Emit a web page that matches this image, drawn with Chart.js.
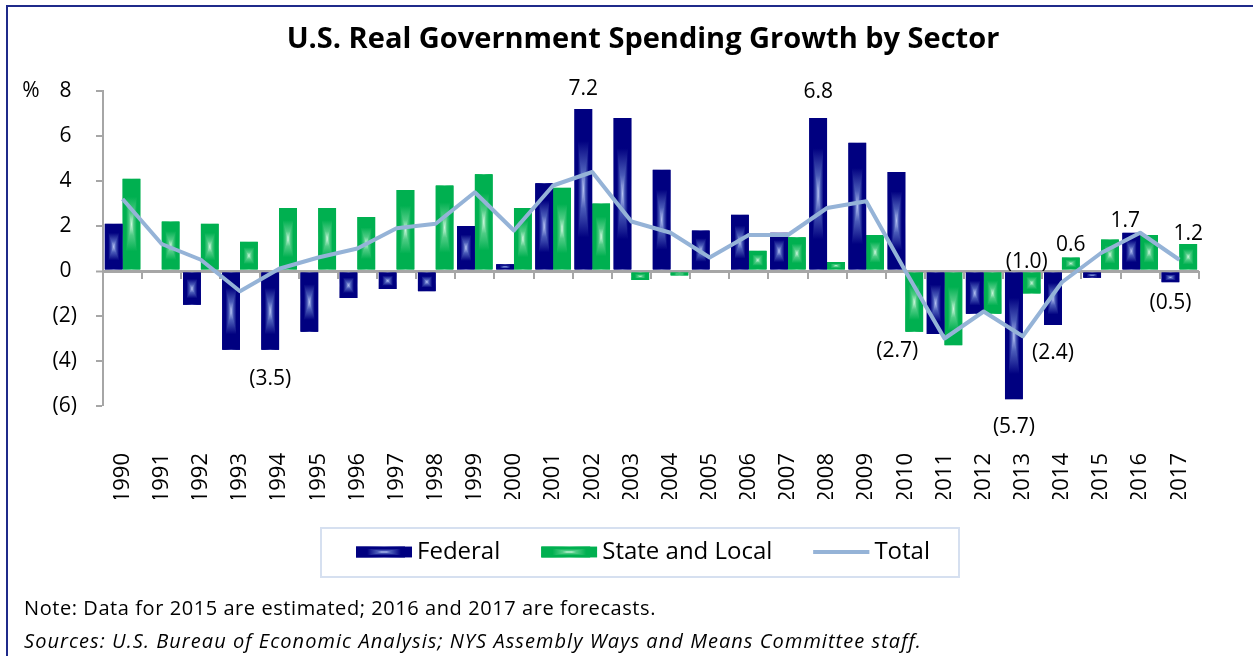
<!DOCTYPE html>
<html>
<head>
<meta charset="utf-8">
<title>U.S. Real Government Spending Growth by Sector</title>
<script src="https://cdn.jsdelivr.net/npm/chart.js@4.4.1/dist/chart.umd.min.js"></script>
<style>
  html, body { margin: 0; padding: 0; background: #fff; }
  #wrap { position: relative; width: 1253px; height: 656px; overflow: hidden; background: #fff; }
  #chart { position: absolute; left: 0; top: 0; }
  .frame-top { position: absolute; left: 6px; top: 5px; right: 0; height: 2px; background: #1F2A8A; }
  .frame-left { position: absolute; left: 6px; top: 5px; bottom: 0; width: 2px; background: #1F2A8A; }
  .heading { position: absolute; left: 0; width: 1286px; top: 17px; line-height: 40px; text-align: center;
             font-family: "Open Sans", sans-serif; font-weight: bold; font-size: 29px; color: #000; white-space: nowrap; }
  .note { position: absolute; left: 24px; font-family: "Open Sans", sans-serif; font-size: 20px; color: #000; white-space: nowrap; letter-spacing: 0.57px; }
  .src { font-style: italic; letter-spacing: 1.05px; }
</style>
</head>
<body>
<div id="wrap">
  <canvas id="chart" width="1253" height="656"></canvas>
  <div class="frame-top"></div>
  <div class="frame-left"></div>
  <div class="heading">U.S. Real Government Spending Growth by Sector</div>
  <div class="note" style="top:594px">Note: Data for 2015 are estimated; 2016 and 2017 are forecasts.</div>
  <div class="note src" style="top:627px">Sources: U.S. Bureau of Economic Analysis; NYS Assembly Ways and Means Committee staff.</div>
</div>
<script>
// ---- data (annual % change) ----
const years = ['1990','1991','1992','1993','1994','1995','1996','1997','1998','1999',
               '2000','2001','2002','2003','2004','2005','2006','2007','2008','2009',
               '2010','2011','2012','2013','2014','2015','2016','2017'];
const federal = [2.1, 0.0, -1.5, -3.5, -3.5, -2.7, -1.2, -0.8, -0.9, 2.0,
                 0.3, 3.9, 7.2, 6.8, 4.5, 1.8, 2.5, 1.7, 6.8, 5.7,
                 4.4, -2.8, -1.9, -5.7, -2.4, -0.3, 1.7, -0.5];
const stateLocal = [4.1, 2.2, 2.1, 1.3, 2.8, 2.8, 2.4, 3.6, 3.8, 4.3,
                    2.8, 3.7, 3.0, -0.4, -0.2, 0.0, 0.9, 1.5, 0.4, 1.6,
                    -2.7, -3.3, -1.9, -1.0, 0.6, 1.4, 1.6, 1.2];
const total = [3.2, 1.2, 0.5, -0.9, 0.1, 0.6, 1.0, 1.9, 2.1, 3.5,
               1.8, 3.8, 4.4, 2.2, 1.7, 0.6, 1.6, 1.6, 2.8, 3.1,
               0.0, -3.0, -1.8, -2.9, -0.5, 0.8, 1.7, 0.5];
const yMin = -6, yMax = 8, yStep = 2;

// which bars carry a value label, and where the label sits relative to the bar end
const labelPlacement = [
  { series: 'Federal',         year: '1994', dx: 0,   dy: 29 },
  { series: 'Federal',         year: '2002', dx: 0,   dy: -20 },
  { series: 'Federal',         year: '2008', dx: 0,   dy: -26 },
  { series: 'State and Local', year: '2010', dx: -17, dy: 19 },
  { series: 'Federal',         year: '2013', dx: 0,   dy: 28 },
  { series: 'State and Local', year: '2013', dx: -5,  dy: -31 },
  { series: 'Federal',         year: '2014', dx: 0,   dy: 28 },
  { series: 'State and Local', year: '2014', dx: 0,   dy: -12 },
  { series: 'Federal',         year: '2016', dx: -6,  dy: -12 },
  { series: 'Federal',         year: '2017', dx: 0,   dy: 21 },
  { series: 'State and Local', year: '2017', dx: 0,   dy: -10 }
];

// ---- styling ----
const FONT = '"Open Sans", Lato, sans-serif';
const NAVY = '#000080', NAVY_MID = '#4A5BB8', NAVY_LIGHT = '#B4C2F2';
const GREEN = '#00B050', GREEN_MID = '#4FCC85', GREEN_LIGHT = '#CDF7DD';
const TOTAL_BLUE = '#95B3D7';
const AXIS_GREY = '#A6A6A6';
const glow = { 'Federal': [NAVY, NAVY_MID, NAVY_LIGHT], 'State and Local': [GREEN, GREEN_MID, GREEN_LIGHT] };
const SWATCH_W = 56;

const fmt = v => v < 0 ? '(' + Math.abs(v).toFixed(1) + ')' : v.toFixed(1);

function ramp(g, c) {
  g.addColorStop(0, c[0]); g.addColorStop(0.2, c[0]); g.addColorStop(0.38, c[1]);
  g.addColorStop(0.5, c[2]);
  g.addColorStop(0.62, c[1]); g.addColorStop(0.8, c[0]); g.addColorStop(1, c[0]);
  return g;
}

// rectangular "from centre" shading: min of a horizontal and a vertical ramp
function shadeRect(ctx, l, t, r, b, cols) {
  if (r - l < 1 || b - t < 1) return;
  const gh = ramp(ctx.createLinearGradient(l, 0, r, 0), cols);
  const gv = ramp(ctx.createLinearGradient(0, t, 0, b), cols);
  ctx.save();
  ctx.beginPath(); ctx.rect(l, t, r - l, b - t); ctx.clip();
  ctx.fillStyle = gh; ctx.fillRect(l, t, r - l, b - t);
  ctx.globalCompositeOperation = 'darken';
  ctx.fillStyle = gv; ctx.fillRect(l, t, r - l, b - t);
  ctx.restore();
}

const barShading = {
  id: 'barShading',
  afterDatasetDraw(chart, args) {
    const ds = chart.data.datasets[args.index];
    const cols = glow[ds.label];
    if (!cols) return;
    const ctx = chart.ctx;
    args.meta.data.forEach(el => {
      const p = el.getProps(['x', 'y', 'base', 'width'], true);
      const l = p.x - p.width / 2, r = p.x + p.width / 2;
      const t = Math.min(p.y, p.base), b = Math.max(p.y, p.base);
      shadeRect(ctx, l, t, r, b, cols);
    });
  }
};

const axisExtras = {
  id: 'axisExtras',
  beforeDatasetsDraw(chart) {
    const { ctx, scales: { x, y } } = chart;
    const y0 = y.getPixelForValue(0);
    ctx.save();
    ctx.strokeStyle = AXIS_GREY; ctx.lineWidth = 2;
    for (let i = 0; i < years.length; i++) {
      const px = Math.round(x.getPixelForValue(i + 0.5));
      ctx.beginPath(); ctx.moveTo(px, y0); ctx.lineTo(px, y0 + 8); ctx.stroke();
    }
    ctx.restore();
  },
  afterDraw(chart) {
    const { ctx, scales: { y } } = chart;
    ctx.save();
    ctx.font = '21px ' + FONT; ctx.fillStyle = '#000';
    ctx.textAlign = 'center'; ctx.textBaseline = 'middle';
    ctx.fillText('%', 31, y.getPixelForValue(yMax));
    ctx.restore();

    // legend frame and full-width swatches
    const lg = chart.legend;
    if (!lg || !lg.legendHitBoxes) return;
    const hb = lg.legendHitBoxes;
    const left = Math.min(...hb.map(h => h.left)) - 35;
    const right = Math.max(...hb.map(h => h.left + h.width)) + 29;
    const cy = hb[0].top + hb[0].height / 2;
    ctx.save();
    ctx.strokeStyle = '#D6E0F0'; ctx.lineWidth = 2;
    ctx.strokeRect(left, cy - 24, right - left, 49);
    lg.legendItems.forEach((item, i) => {
      const h = hb[i];
      const cols = glow[item.text];
      if (cols) {
        shadeRect(ctx, h.left, cy - 5.5, h.left + SWATCH_W, cy + 5.5, cols);
      } else {
        ctx.strokeStyle = item.strokeStyle; ctx.lineWidth = item.lineWidth;
        ctx.beginPath(); ctx.moveTo(h.left, cy); ctx.lineTo(h.left + SWATCH_W, cy); ctx.stroke();
      }
    });
    ctx.restore();
  }
};

const valueLabels = {
  id: 'valueLabels',
  afterDatasetsDraw(chart) {
    const ctx = chart.ctx;
    ctx.save();
    ctx.font = '21px ' + FONT; ctx.fillStyle = '#000';
    ctx.textAlign = 'center'; ctx.textBaseline = 'middle';
    labelPlacement.forEach(p => {
      const di = chart.data.datasets.findIndex(d => d.label === p.series);
      const i = years.indexOf(p.year);
      const el = chart.getDatasetMeta(di).data[i];
      const v = chart.data.datasets[di].data[i];
      ctx.fillText(fmt(v), el.x + p.dx, el.y + p.dy);
    });
    ctx.restore();
  }
};

new Chart(document.getElementById('chart'), {
  data: {
    labels: years,
    datasets: [
      { type: 'bar', label: 'Federal', data: federal, backgroundColor: NAVY,
        borderWidth: 0, categoryPercentage: 0.91, barPercentage: 1.0, order: 2, pointStyle: 'rect' },
      { type: 'bar', label: 'State and Local', data: stateLocal, backgroundColor: GREEN,
        borderWidth: 0, categoryPercentage: 0.91, barPercentage: 1.0, order: 2, pointStyle: 'rect' },
      { type: 'line', label: 'Total', data: total, borderColor: TOTAL_BLUE, backgroundColor: TOTAL_BLUE,
        borderWidth: 4, pointRadius: 0, tension: 0, order: 1, pointStyle: 'line', borderJoinStyle: 'round' }
    ]
  },
  options: {
    responsive: false,
    animation: false,
    devicePixelRatio: 1,
    layout: { padding: { left: 48, right: 15, top: 91, bottom: 82 } },
    scales: {
      x: {
        grid: { display: false, drawTicks: false },
        border: { display: false },
        ticks: { minRotation: 90, maxRotation: 90, autoSkip: false, padding: 47,
                 color: '#000', font: { family: FONT, size: 22 } },
        afterFit(s) { s.height = 93; }
      },
      y: {
        min: yMin, max: yMax,
        ticks: { stepSize: yStep, padding: 19, color: '#000', font: { family: FONT, size: 21 },
                 callback: v => v < 0 ? '(' + Math.abs(v) + ')' : v + ' ' },
        grid: {
          color: c => c.tick && c.tick.value === 0 ? AXIS_GREY : 'rgba(0,0,0,0)',
          lineWidth: c => c.tick && c.tick.value === 0 ? 3 : 0,
          tickColor: AXIS_GREY, tickWidth: 2, tickLength: 7
        },
        border: { color: AXIS_GREY, width: 2 },
        afterFit(s) { s.width = 55; }
      }
    },
    plugins: {
      title: { display: false },
      legend: {
        position: 'bottom',
        labels: {
          usePointStyle: true, pointStyleWidth: 49, boxHeight: 11,
          padding: 41, color: '#000', font: { family: FONT, size: 24 },
          sort: (a, b) => a.datasetIndex - b.datasetIndex
        }
      },
      tooltip: { enabled: false }
    }
  },
  plugins: [barShading, axisExtras, valueLabels]
});
</script>
</body>
</html>
